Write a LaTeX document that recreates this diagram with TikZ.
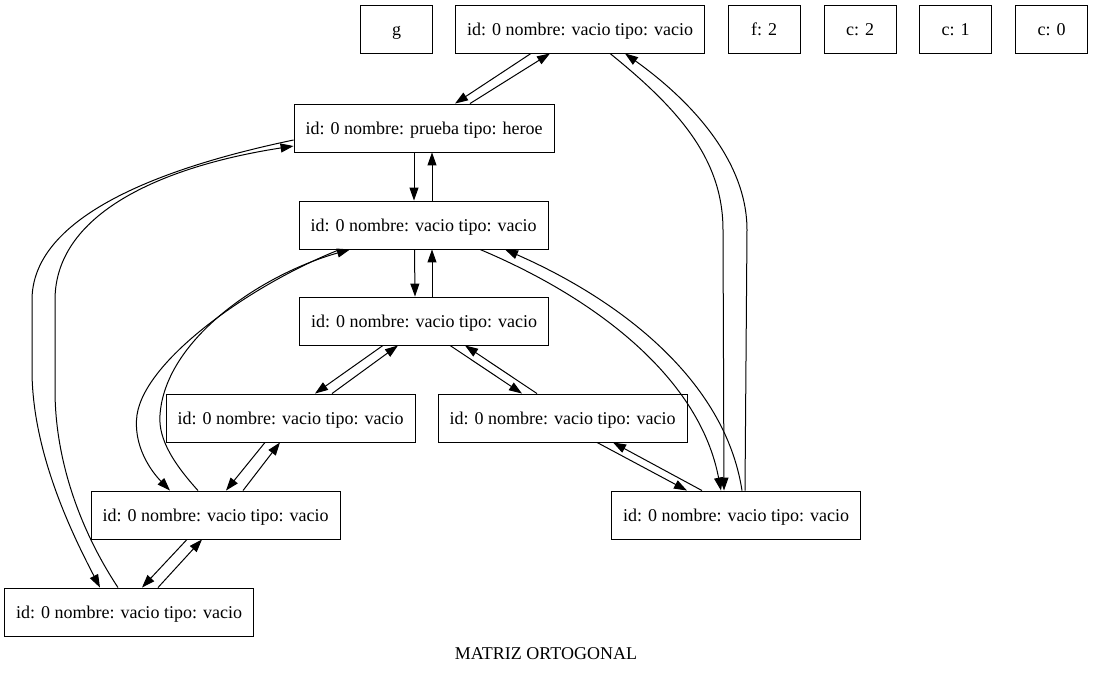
\documentclass[tikz,border=0pt]{standalone}
\usepackage{fontspec}
\setmainfont{Liberation Serif}
\usepackage{tikz}
\usetikzlibrary{arrows.meta,positioning}

\tikzset{
    caja/.style={draw, rectangle, line width=0.9pt, minimum width=72pt, minimum height=48pt, inner xsep=11.5pt, text height=12pt, text depth=0pt},
    flecha/.style={line width=1pt, -{Triangle[length=13pt,width=9pt]}}
}

\begin{document}
\begin{tikzpicture}[x=1pt, y=-1pt, font=\fontsize{18}{22}\selectfont]
        \useasboundingbox (0,0) rectangle (1093,675);

        % Cabeceras
        \node[caja] (g) at (396.5,29) {g};
        \node[caja] (raiz) at (580,29) {id: 0 nombre: vacio tipo: vacio};
        \node[caja] (f2) at (764,29) {f: 2};
        \node[caja] (c2) at (860,29) {c: 2};
        \node[caja] (c1) at (955.5,29) {c: 1};
        \node[caja] (c0) at (1051.5,29) {c: 0};

        % Nodos de la matriz
        \node[caja] (heroe) at (424,128) {id: 0 nombre: prueba tipo: heroe};
        \node[caja] (m1) at (423.5,225) {id: 0 nombre: vacio tipo: vacio};
        \node[caja] (m2) at (424,321) {id: 0 nombre: vacio tipo: vacio};
        \node[caja] (m3) at (290.5,418) {id: 0 nombre: vacio tipo: vacio};
        \node[caja] (m4) at (562.5,418) {id: 0 nombre: vacio tipo: vacio};
        \node[caja] (m5) at (215.5,515) {id: 0 nombre: vacio tipo: vacio};
        \node[caja] (m6) at (736,515) {id: 0 nombre: vacio tipo: vacio};
        \node[caja] (m7) at (129,612) {id: 0 nombre: vacio tipo: vacio};

        % Titulo
        \node (titulo) at (546,654) {MATRIZ ORTOGONAL};

        % Enlaces cortos
        \draw[flecha] ([xshift=-49pt]raiz.south) -- ([xshift=31pt]heroe.north);
        \draw[flecha] ([xshift=46pt]heroe.north) -- ([xshift=-30pt]raiz.south);
        \draw[flecha] ([xshift=-10pt]heroe.south) -- ([xshift=-9.5pt]m1.north);
        \draw[flecha] ([xshift=8.5pt]m1.north) -- ([xshift=8pt]heroe.south);
        \draw[flecha] ([xshift=-9pt]m1.south) -- ([xshift=-9pt]m2.north);
        \draw[flecha] ([xshift=8pt]m2.north) -- ([xshift=8.5pt]m1.south);
        \draw[flecha] ([xshift=-41pt]m2.south) -- ([xshift=24.5pt]m3.north);
        \draw[flecha] ([xshift=41.5pt]m3.north) -- ([xshift=-26pt]m2.south);
        \draw[flecha] ([xshift=26pt]m2.south) -- ([xshift=-40.5pt]m4.north);
        \draw[flecha] ([xshift=-25.5pt]m4.north) -- ([xshift=41pt]m2.south);
        \draw[flecha] ([xshift=-25.5pt]m3.south) -- ([xshift=10.5pt]m5.north);
        \draw[flecha] ([xshift=27.5pt]m5.north) -- ([xshift=-10.5pt]m3.south);
        \draw[flecha] ([xshift=-28.5pt]m5.south) -- ([xshift=13pt]m7.north);
        \draw[flecha] ([xshift=29pt]m7.north) -- ([xshift=-13.5pt]m5.south);
        \draw[flecha] ([xshift=34.5pt]m4.south) -- ([xshift=-49pt]m6.north);
        \draw[flecha] ([xshift=-34pt]m6.north) -- ([xshift=50.5pt]m4.south);

        % Enlaces largos (derecha)
        \draw[flecha] ([xshift=30pt]raiz.south) .. controls (680,110) and (723,160) .. (723,230) -- ([xshift=-12pt]m6.north);
        \draw[flecha] ([xshift=9pt]m6.north) -- (747,230) .. controls (747,160) and (690,100) .. ([xshift=45pt]raiz.south);
        \draw[flecha] ([xshift=56.5pt]m1.south) .. controls (600,300) and (700,380) .. ([xshift=-15pt]m6.north);
        \draw[flecha] ([xshift=6pt]m6.north) .. controls (725,380) and (620,300) .. ([xshift=81.5pt]m1.south);

        % Enlaces largos (izquierda)
        \draw[flecha] ([xshift=-83.5pt]m1.south) .. controls (250,285) and (145,360) .. (137,415) .. controls (133,445) and (150,470) .. ([xshift=-45.5pt]m5.north);
        \draw[flecha] ([xshift=-17.5pt]m5.north) .. controls (175,465) and (158,440) .. (160,415) .. controls (165,340) and (260,275) .. ([xshift=-73.5pt]m1.south);
        \draw[flecha] ([yshift=-12pt]heroe.west) .. controls (150,170) and (32,220) .. (32,300) -- (32,370) .. controls (32,450) and (70,530) .. ([xshift=-29pt]m7.north);
        \draw[flecha] ([xshift=-11pt]m7.north) .. controls (80,530) and (55,460) .. (55,390) -- (55,300) .. controls (55,210) and (170,165) .. ([yshift=-18pt]heroe.west);
\end{tikzpicture}
\end{document}
